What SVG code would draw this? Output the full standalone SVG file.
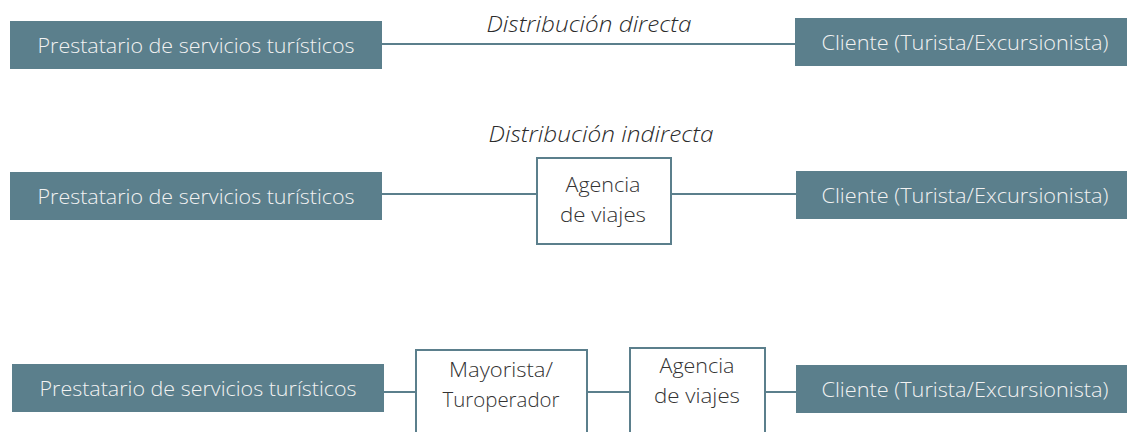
<svg xmlns="http://www.w3.org/2000/svg" width="1127" height="432" viewBox="0 0 1127 432">
<style>
.dark{fill:#5b7f8c}
.box{fill:#ffffff;stroke:#5b7f8c;stroke-width:2}
.wt{fill:#f2f2f2;font-family:"Open Sans","Liberation Sans",sans-serif;font-weight:300;font-size:20px;text-anchor:middle}
.bt{fill:#333333;font-family:"Open Sans","Liberation Sans",sans-serif;font-weight:300;font-size:21px;text-anchor:middle}
.it{fill:#2b2b2b;font-family:"Open Sans","Liberation Sans",sans-serif;font-weight:300;font-size:22px;font-style:italic;text-anchor:middle}
.ln{stroke:#5b7f8c;stroke-width:2;fill:none}
</style>
<rect width="1127" height="432" fill="#ffffff"/>
<g id="connectors">
<line class="ln" x1="382" y1="44" x2="795" y2="44"/>
<line class="ln" x1="382" y1="194" x2="536" y2="194"/>
<line class="ln" x1="671" y1="194" x2="796" y2="194"/>
<line class="ln" x1="384" y1="392" x2="416" y2="392"/>
<line class="ln" x1="587" y1="392" x2="630" y2="392"/>
<line class="ln" x1="765" y1="392" x2="796" y2="392"/>
</g>
<text class="it" x="589" y="32" textLength="205" lengthAdjust="spacingAndGlyphs">Distribución directa</text>
<text class="it" x="601" y="142" textLength="225" lengthAdjust="spacingAndGlyphs">Distribución indirecta</text>
<g id="prest1"><rect class="dark" x="10" y="21" width="372" height="48"/><text class="wt" x="196" y="53" textLength="317" lengthAdjust="spacingAndGlyphs">Prestatario de servicios turísticos</text></g>
<g id="cliente1"><rect class="dark" x="795" y="18" width="332" height="48"/><text class="wt" x="965" y="50" textLength="287" lengthAdjust="spacingAndGlyphs">Cliente (Turista/Excursionista)</text></g>
<g id="prest2"><rect class="dark" x="10" y="172" width="372" height="48"/><text class="wt" x="196" y="204" textLength="317" lengthAdjust="spacingAndGlyphs">Prestatario de servicios turísticos</text></g>
<g id="agencia1"><rect class="box" x="537" y="158" width="134" height="86"/><text class="bt" x="603" y="192" textLength="75" lengthAdjust="spacingAndGlyphs">Agencia</text><text class="bt" x="603" y="222" textLength="86" lengthAdjust="spacingAndGlyphs">de viajes</text></g>
<g id="cliente2"><rect class="dark" x="796" y="171" width="331" height="48"/><text class="wt" x="965" y="203" textLength="287" lengthAdjust="spacingAndGlyphs">Cliente (Turista/Excursionista)</text></g>
<g id="prest3"><rect class="dark" x="12" y="364" width="372" height="48"/><text class="wt" x="198" y="396" textLength="317" lengthAdjust="spacingAndGlyphs">Prestatario de servicios turísticos</text></g>
<g id="mayorista"><rect class="box" x="416" y="350" width="171" height="90"/><text class="bt" x="501" y="377" textLength="104" lengthAdjust="spacingAndGlyphs">Mayorista/</text><text class="bt" x="501" y="407" textLength="117" lengthAdjust="spacingAndGlyphs">Turoperador</text></g>
<g id="agencia2"><rect class="box" x="630" y="348" width="135" height="90"/><text class="bt" x="697" y="373" textLength="75" lengthAdjust="spacingAndGlyphs">Agencia</text><text class="bt" x="697" y="403" textLength="86" lengthAdjust="spacingAndGlyphs">de viajes</text></g>
<g id="cliente3"><rect class="dark" x="796" y="365" width="331" height="48"/><text class="wt" x="965" y="397" textLength="287" lengthAdjust="spacingAndGlyphs">Cliente (Turista/Excursionista)</text></g>
</svg>
